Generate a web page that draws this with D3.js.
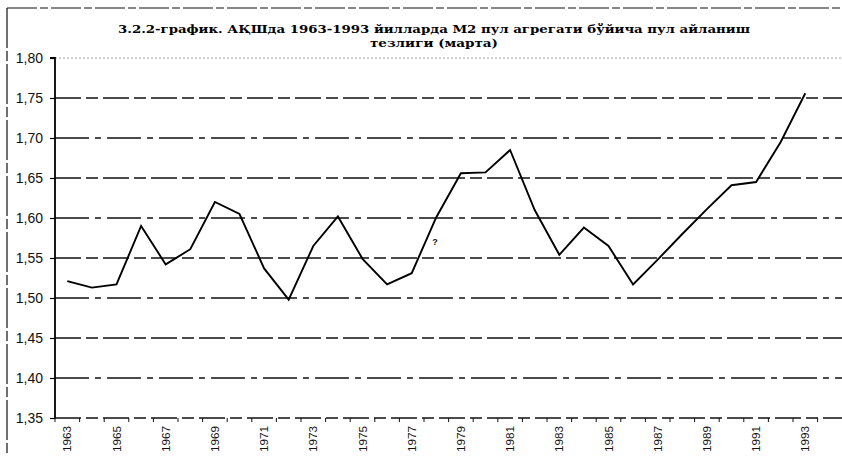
<!DOCTYPE html>
<html>
<head>
<meta charset="utf-8">
<script src="https://cdn.jsdelivr.net/npm/d3@7"></script>
<style>
  body { margin: 0; background: #fff; }
  svg { display: block; }
</style>
</head>
<body>
<script>
const width = 842;
const height = 456;

// data
const years = d3.range(1963, 1994);
const velocity = [
  1.521, 1.513, 1.517, 1.590, 1.542, 1.561, 1.620, 1.605, 1.537, 1.498,
  1.565, 1.602, 1.549, 1.517, 1.531, 1.601, 1.656, 1.657, 1.685, 1.610,
  1.554, 1.588, 1.565, 1.517, 1.548, 1.580, 1.611, 1.641, 1.645, 1.695,
  1.756
];
const yTicks = [1.35, 1.40, 1.45, 1.50, 1.55, 1.60, 1.65, 1.70, 1.75, 1.80];
const yearLabels = years.filter((y) => (y - 1963) % 2 === 0);
const titleLines = [
  '3.2.2-график. АҚШда 1963-1993 йилларда М2 пул агрегати бўйича пул айланиш',
  'тезлиги (марта)'
];

const plotLeft = 55;
const plotRight = 842;
const plotTop = 58;
const plotBottom = 418;

const svg = d3.select('body').append('svg')
  .attr('width', width)
  .attr('height', height);

const xScale = d3.scaleBand().domain(years).range([plotLeft, plotLeft + years.length * 24.6]);
const yScale = d3.scaleLinear().domain([1.35, 1.80]).range([plotBottom, plotTop]);
const cx = (y) => xScale(y) + xScale.bandwidth() / 2;

// outer frame (top and left edges of the scanned box)
svg.append('line')
  .attr('x1', 7).attr('x2', width).attr('y1', 8).attr('y2', 8)
  .attr('stroke', '#111').attr('stroke-width', 1.2)
  .attr('stroke-dasharray', '30,3,8,3');
svg.append('line')
  .attr('x1', 7).attr('x2', 7).attr('y1', 8).attr('y2', height)
  .attr('stroke', '#111').attr('stroke-width', 1.2)
  .attr('stroke-dasharray', '40,3,10,3');

// title
svg.append('text')
  .attr('x', 434).attr('y', 33)
  .attr('text-anchor', 'middle')
  .attr('font-family', 'DejaVu Serif')
  .attr('font-weight', 'bold')
  .attr('font-size', 11)
  .attr('textLength', 632)
  .attr('lengthAdjust', 'spacingAndGlyphs')
  .text(titleLines[0]);
svg.append('text')
  .attr('x', 434).attr('y', 47)
  .attr('text-anchor', 'middle')
  .attr('font-family', 'DejaVu Serif')
  .attr('font-weight', 'bold')
  .attr('font-size', 11)
  .attr('textLength', 128)
  .attr('lengthAdjust', 'spacingAndGlyphs')
  .text(titleLines[1]);

// horizontal gridlines
svg.append('g')
  .selectAll('line')
  .data(yTicks)
  .join('line')
  .attr('x1', plotLeft).attr('x2', plotRight)
  .attr('y1', (d) => yScale(d)).attr('y2', (d) => yScale(d))
  .attr('stroke', (d) => d === 1.80 ? '#888' : '#111')
  .attr('stroke-width', (d) => d === 1.80 ? 0.8 : 1.3)
  .attr('stroke-dasharray', (d, i) => d === 1.80 ? '2,2' : (i % 2 ? '34,6,6,6' : '26,5,12,5'));

// y axis
const yAxis = d3.axisLeft(yScale)
  .tickValues(yTicks)
  .tickSize(5)
  .tickFormat((d) => d3.format('.2f')(d).replace('.', ','));

svg.append('g')
  .attr('class', 'axis')
  .attr('transform', `translate(${plotLeft}, 0)`)
  .call(yAxis)
  .call((g) => g.select('.domain').attr('stroke-width', 1.8).attr('d', `M-5,${plotTop}H0V${plotBottom}`))
  .call((g) => g.selectAll('.tick line').attr('stroke-width', 1.2))
  .call((g) => g.selectAll('.tick text')
    .attr('x', -12)
    .attr('font-family', 'Liberation Sans, Arial, sans-serif')
    .attr('font-size', 14)
    .attr('fill', '#111'));

// category ticks on the bottom axis
const edges = years.map((d) => xScale(d)).concat([xScale(1993) + xScale.bandwidth()]);
svg.append('g')
  .selectAll('line')
  .data(edges)
  .join('line')
  .attr('x1', (d) => d).attr('x2', (d) => d)
  .attr('y1', plotBottom).attr('y2', plotBottom + 4)
  .attr('stroke', '#111').attr('stroke-width', 1);

// year labels
svg.append('g')
  .selectAll('text')
  .data(yearLabels)
  .join('text')
  .attr('transform', (d) => `translate(${cx(d) + 4}, 426) rotate(-90)`)
  .attr('text-anchor', 'end')
  .attr('font-family', 'Liberation Sans, Arial, sans-serif')
  .attr('font-size', 11)
  .attr('textLength', 26)
  .attr('lengthAdjust', 'spacingAndGlyphs')
  .attr('fill', '#111')
  .text((d) => d);

// series line
const line = d3.line()
  .x((d, i) => cx(years[i]))
  .y((d) => yScale(d));

svg.append('path')
  .datum(velocity)
  .attr('fill', 'none')
  .attr('stroke', '#000')
  .attr('stroke-width', 1.9)
  .attr('stroke-linejoin', 'miter')
  .attr('d', line);

// stray mark on the scan next to 1978
svg.append('text')
  .attr('x', cx(1978) - 4).attr('y', yScale(1.57) + 3)
  .attr('font-family', 'Liberation Sans, Arial, sans-serif')
  .attr('font-weight', 'bold')
  .attr('font-size', 9)
  .attr('fill', '#111')
  .text('?');
</script>
</body>
</html>
